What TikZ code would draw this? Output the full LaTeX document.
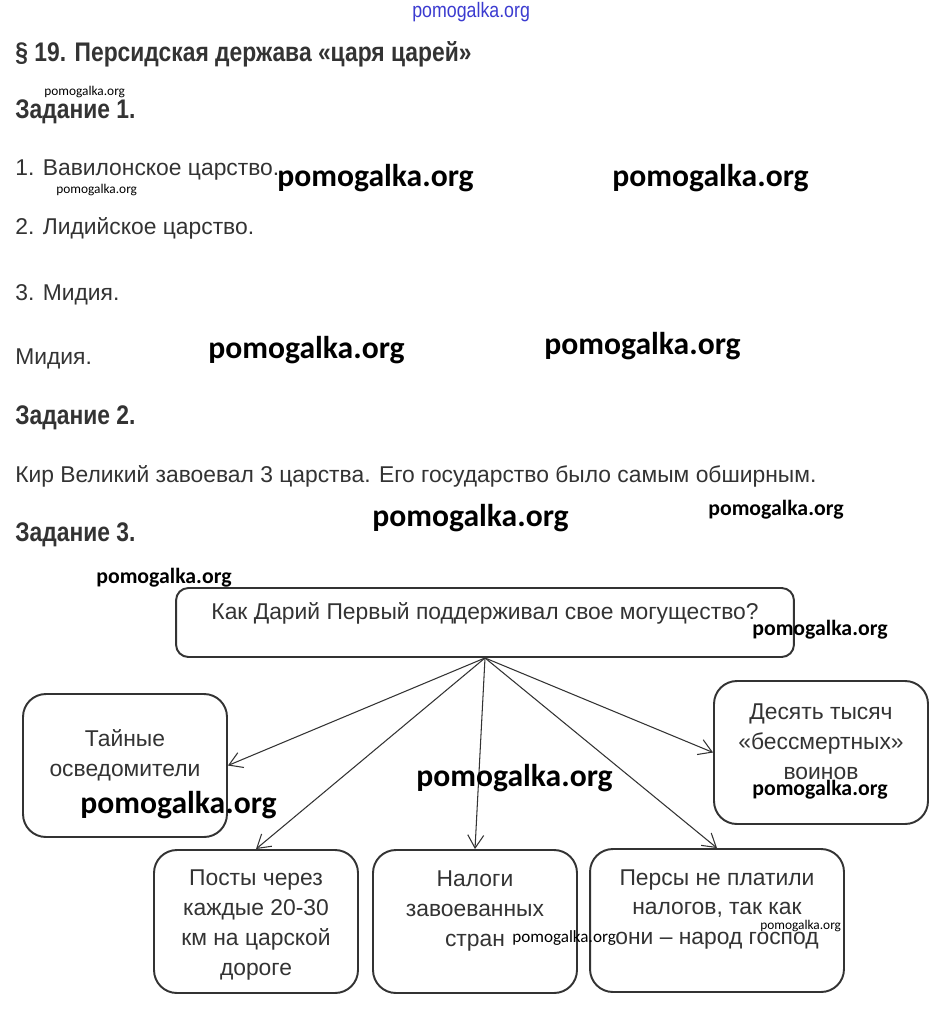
\documentclass[tikz,border=0pt]{standalone}
\usepackage{fontspec}
\setmainfont{Liberation Sans}
\newfontfamily\wmfont{Carlito}
\newfontfamily\narrowfont[FakeStretch=0.85]{Liberation Sans}
\usetikzlibrary{arrows.meta}
\definecolor{txtgray}{HTML}{333333}
\definecolor{wmblue}{HTML}{3B3BD0}
\tikzset{
  heading/.style={anchor=west, inner sep=0pt, text=txtgray, font=\narrowfont\bfseries\fontsize{15.3}{17}\selectfont},
  body/.style={anchor=west, inner sep=0pt, text=txtgray, font=\fontsize{13}{15}\selectfont},
  qbox/.style={draw=txtgray, line width=1.1pt, rounded corners=13pt, minimum height=2.86cm},
  tbox/.style={qbox, rounded corners=7pt, minimum width=12.36cm, minimum height=1.38cm},
  btext/.style={align=center, inner sep=0pt, text=txtgray, font=\fontsize{13}{17}\selectfont},
  arr/.style={draw=txtgray, line width=0.6pt, -{Straight Barb[length=2.6mm,width=3.2mm]}},
  wmbig/.style={anchor=west, inner sep=0pt, font=\wmfont\bfseries\fontsize{18}{20}\selectfont},
  wmmid/.style={anchor=west, inner sep=0pt, font=\wmfont\bfseries\fontsize{12.4}{14}\selectfont},
  wmsmall/.style={anchor=west, inner sep=0pt, font=\wmfont\fontsize{7.6}{9}\selectfont},
}
\begin{document}
\begin{tikzpicture}[x=0.02cm, y=-0.02cm]
\useasboundingbox[fill=white] (0,0) rectangle (942,1010);
% text of the page
\node[heading] (title) at (15,54) {§ 19. Персидская держава «царя царей»};
\node[heading] (z1) at (15,112) {Задание 1.};
\node[body] (a1) at (15,170) {1. Вавилонское царство.};
\node[body] (a2) at (15,228) {2. Лидийское царство.};
\node[body] (a3) at (15,295) {3. Мидия.};
\node[body] (a4) at (15,359) {Мидия.};
\node[heading] (z2) at (15,418) {Задание 2.};
\node[body] (b1) at (15,476) {Кир Великий завоевал 3 царства. Его государство было самым обширным.};
\node[heading] (z3) at (15,535) {Задание 3.};
% scheme
\node[tbox] (darij) at (485,622.5) {};
\node[btext] at (485,613) {Как Дарий Первый поддерживал свое могущество?};
\node[qbox, minimum width=4.08cm] (tajn) at (125,765.5) {};
\node[btext] at (125,755) {Тайные\\осведомители};
\node[qbox, minimum width=4.08cm] (posty) at (256,921.5) {};
\node[btext] at (256,925) {Посты через\\каждые 20-30\\км на царской\\дороге};
\node[qbox, minimum width=4.08cm] (nalog) at (475,921.5) {};
\node[btext] at (475,911) {Налоги\\завоеванных\\стран};
\node[qbox, minimum width=5.08cm] (pers) at (717,920.5) {};
\node[btext] at (717,909.5) {Персы не платили\\налогов, так как\\они – народ господ};
\node[qbox, minimum width=4.28cm] (voiny) at (821,752.5) {};
\node[btext] at (821,742) {Десять тысяч\\«бессмертных»\\воинов};
\draw[arr] (darij.south) -- (tajn.east);
\draw[arr] (darij.south) -- (posty.north);
\draw[arr] (darij.south) -- (nalog.north);
\draw[arr] (darij.south) -- (pers.north);
\draw[arr] (darij.south) -- (voiny.west);
% watermarks
\node[anchor=west, inner sep=0pt, text=wmblue, font=\narrowfont\fontsize{11.9}{13}\selectfont] at (412,12) {pomogalka.org};
\node[wmsmall] at (44,92) {pomogalka.org};
\node[wmbig] at (277,178) {pomogalka.org};
\node[wmbig] at (612,178) {pomogalka.org};
\node[wmsmall] at (56,190) {pomogalka.org};
\node[wmbig] at (208,350) {pomogalka.org};
\node[wmbig] at (544,346) {pomogalka.org};
\node[wmbig] at (372,518) {pomogalka.org};
\node[wmmid] at (708,510) {pomogalka.org};
\node[wmmid] at (96,578) {pomogalka.org};
\node[wmmid] at (752,630) {pomogalka.org};
\node[wmbig] at (416,778) {pomogalka.org};
\node[wmbig] at (80,805) {pomogalka.org};
\node[wmmid] at (752,790) {pomogalka.org};
\node[wmsmall, font=\wmfont\fontsize{9.75}{11}\selectfont] at (512,938) {pomogalka.org};
\node[wmsmall] at (760,926) {pomogalka.org};
\end{tikzpicture}
\end{document}
